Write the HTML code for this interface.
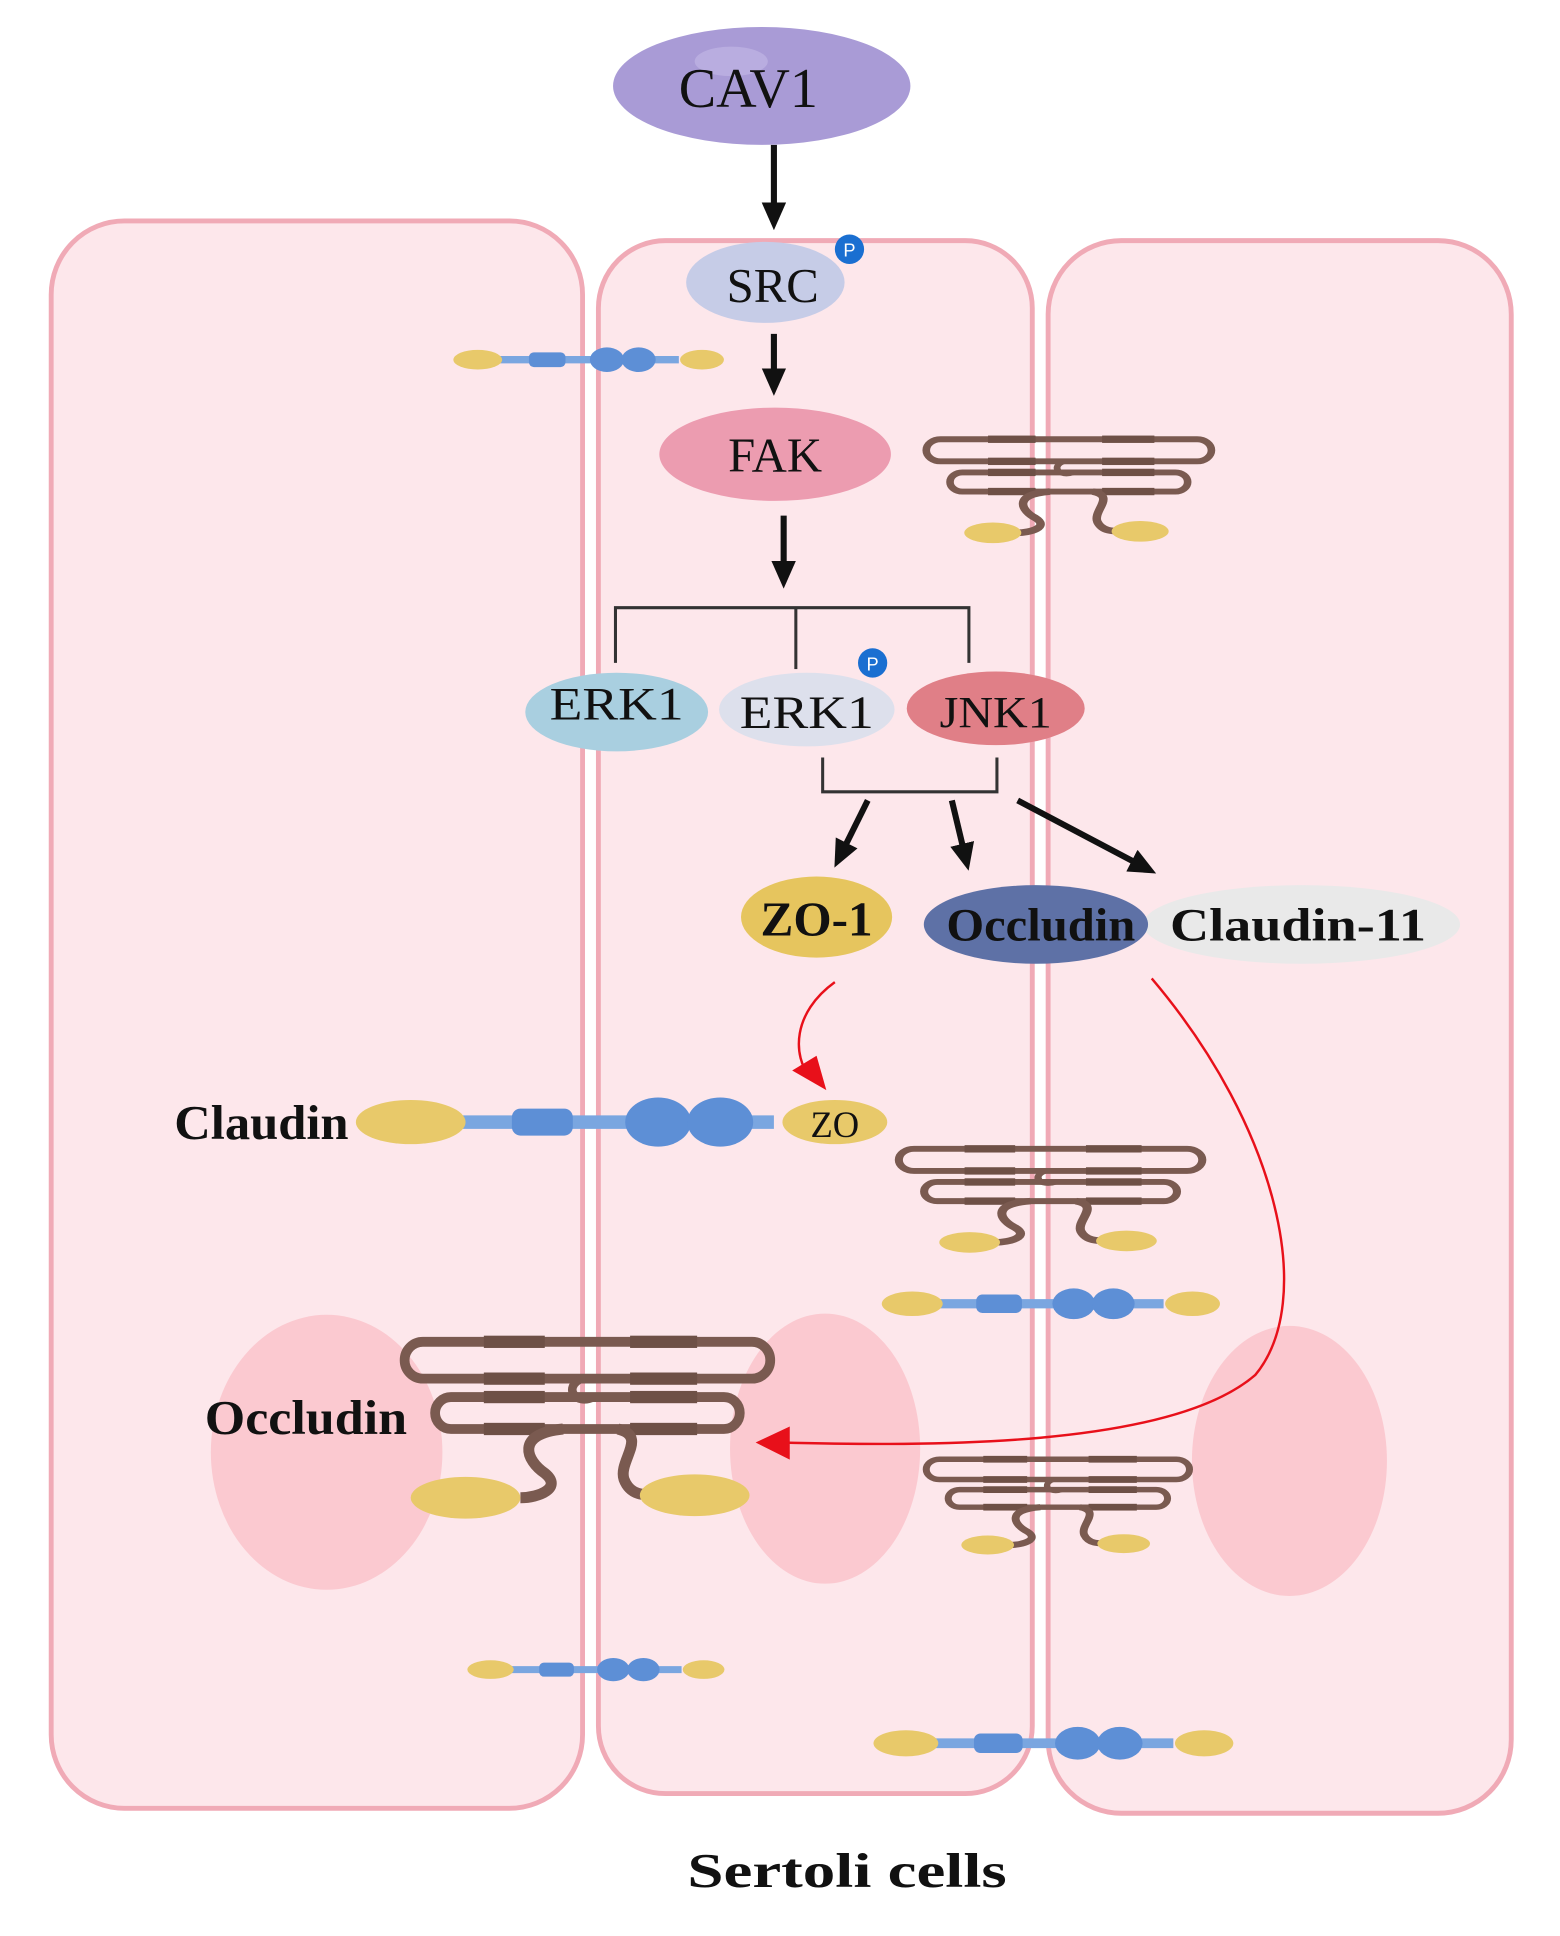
<!DOCTYPE html>
<html><head><meta charset="utf-8"><style>
html,body{margin:0;padding:0;background:#fff;}
svg{display:block;}
text{font-family:"Liberation Serif",serif;fill:#111;}
</style></head><body>
<svg width="1560" height="1936" viewBox="0 0 1280 1577" preserveAspectRatio="none" xmlns="http://www.w3.org/2000/svg">
<defs>
<marker id="ab" markerWidth="4.5" markerHeight="4" refX="3" refY="2" orient="auto" markerUnits="strokeWidth"><path d="M0,0 L4.5,2 L0,4 z" fill="#111"/></marker>
<g id="st">
<line x1="-75" y1="0" x2="75" y2="0" stroke="#7aa6e0" stroke-width="6"/>
<ellipse cx="-90" cy="0" rx="20" ry="8" fill="#e8c96a"/>
<rect x="-48" y="-6" width="30" height="12" rx="4" fill="#5d8fd6"/>
<ellipse cx="16" cy="0" rx="14" ry="10" fill="#5d8fd6"/>
<ellipse cx="42" cy="0" rx="14" ry="10" fill="#5d8fd6"/>
<ellipse cx="94" cy="0" rx="18" ry="8" fill="#e8c96a"/>
</g>
<g id="ocl">
<rect x="-150" y="-57" width="300" height="30" rx="15" fill="none" stroke="#7a5a50" stroke-width="8"/>
<rect x="-125" y="-12" width="250" height="26" rx="13" fill="none" stroke="#7a5a50" stroke-width="8"/>
<g fill="#6e5046">
<rect x="-85" y="-62" width="50" height="10"/><rect x="35" y="-62" width="55" height="10"/>
<rect x="-85" y="-32" width="50" height="10"/><rect x="35" y="-32" width="55" height="10"/>
<rect x="-85" y="-17" width="50" height="10"/><rect x="35" y="-17" width="55" height="10"/>
<rect x="-85" y="9" width="50" height="10"/><rect x="35" y="9" width="55" height="10"/>
</g>
<path d="M-5,-27 C-20,-20 -10,-5 5,-12" fill="none" stroke="#7a5a50" stroke-width="7"/>
<path d="M-20,14 C-60,18 -50,40 -35,50 C-20,62 -40,70 -55,70" fill="none" stroke="#7a5a50" stroke-width="9"/>
<path d="M25,14 C50,20 25,40 30,55 C35,68 45,68 60,68" fill="none" stroke="#7a5a50" stroke-width="9"/>
</g>
<g id="oc">
<use href="#ocl"/>
<ellipse cx="-100" cy="70" rx="45" ry="17" fill="#e8c96a"/>
<ellipse cx="88" cy="68" rx="45" ry="17" fill="#e8c96a"/>
</g>
<g id="ocs">
<use href="#ocl"/>
<ellipse cx="-80" cy="70" rx="30" ry="14" fill="#e8c96a"/>
<ellipse cx="75" cy="68" rx="30" ry="14" fill="#e8c96a"/>
</g>
</defs>
<rect width="1280" height="1577" fill="#fff"/>
<rect x="42" y="180" width="436" height="1293" rx="60" fill="#fde7eb" stroke="#f0aab6" stroke-width="4"/>
<rect x="491" y="196" width="356" height="1265" rx="55" fill="#fde7eb" stroke="#f0aab6" stroke-width="4"/>
<rect x="860" y="196" width="380" height="1281" rx="60" fill="#fde7eb" stroke="#f0aab6" stroke-width="4"/>
<ellipse cx="268" cy="1183" rx="95" ry="112" fill="#fbc9d0"/>
<ellipse cx="677" cy="1180" rx="78" ry="110" fill="#fbc9d0"/>
<ellipse cx="1058" cy="1190" rx="80" ry="110" fill="#fbc9d0"/>
<use href="#st" transform="translate(482,293)"/>
<use href="#st" transform="translate(861,1062) scale(1.25)"/>
<use href="#st" transform="translate(488,1360) scale(0.95)"/>
<use href="#st" transform="translate(863,1420) scale(1.33)"/>
<use href="#oc" transform="translate(482,1150)"/>
<use href="#ocs" transform="translate(877,392) scale(0.78,0.6)"/>
<use href="#ocs" transform="translate(862,970) scale(0.83,0.6)"/>
<use href="#ocs" transform="translate(868,1220) scale(0.72,0.55)"/>
<g stroke="#111" stroke-width="5" fill="none">
<line x1="635" y1="118" x2="635" y2="180" marker-end="url(#ab)"/>
<line x1="635" y1="272" x2="635" y2="315" marker-end="url(#ab)"/>
<line x1="643" y1="420" x2="643" y2="472" marker-end="url(#ab)"/>
<line x1="712" y1="652" x2="688" y2="700" marker-end="url(#ab)"/>
<line x1="781" y1="652" x2="793" y2="702" marker-end="url(#ab)"/>
<line x1="835" y1="652" x2="942" y2="708" marker-end="url(#ab)"/>
</g>
<g stroke="#333" stroke-width="2.5" fill="none">
<polyline points="505,540 505,495 795,495 795,540"/>
<line x1="653" y1="495" x2="653" y2="545"/>
<polyline points="675,617 675,645 818,645 818,617"/>
</g>
<ellipse cx="625" cy="70" rx="122" ry="48" fill="#a99bd6"/>
<ellipse cx="600" cy="50" rx="30" ry="12" fill="#c4b9e6" opacity="0.6"/>
<text x="614" y="87" font-size="46" text-anchor="middle">CAV1</text>
<ellipse cx="628" cy="230" rx="65" ry="33" fill="#c6cce7"/>
<text x="634" y="246" font-size="40" text-anchor="middle">SRC</text>
<circle cx="697" cy="203" r="12" fill="#1a6fd1"/><text x="697" y="209" font-size="15" text-anchor="middle" style="fill:#fff;font-family:'Liberation Sans',sans-serif">P</text>
<ellipse cx="636" cy="370" rx="95" ry="38" fill="#ec9cb0"/>
<text x="636" y="384" font-size="40" text-anchor="middle">FAK</text>
<ellipse cx="506" cy="580" rx="75" ry="32" fill="#a9cfe0"/>
<text x="506" y="586" font-size="38" text-anchor="middle" textLength="110" lengthAdjust="spacingAndGlyphs">ERK1</text>
<ellipse cx="662" cy="578" rx="72" ry="30" fill="#dde0ec"/>
<text x="662" y="593" font-size="38" text-anchor="middle" textLength="110" lengthAdjust="spacingAndGlyphs">ERK1</text>
<circle cx="716" cy="540" r="12" fill="#1a6fd1"/><text x="716" y="546" font-size="15" text-anchor="middle" style="fill:#fff;font-family:'Liberation Sans',sans-serif">P</text>
<ellipse cx="817" cy="577" rx="73" ry="30" fill="#e07f87"/>
<text x="817" y="592" font-size="36" text-anchor="middle" textLength="92" lengthAdjust="spacingAndGlyphs">JNK1</text>
<ellipse cx="670" cy="747" rx="62" ry="33" fill="#e6c55e"/>
<text x="670" y="762" font-size="40" text-anchor="middle" font-weight="bold" textLength="92" lengthAdjust="spacingAndGlyphs">ZO-1</text>
<ellipse cx="1068" cy="753" rx="130" ry="32" fill="#e9e9e9"/>
<ellipse cx="850" cy="753" rx="92" ry="32" fill="#5e71a6"/>
<text x="854" y="766" font-size="38" text-anchor="middle" font-weight="bold" textLength="155" lengthAdjust="spacingAndGlyphs">Occludin</text>
<text x="1065" y="766" font-size="38" text-anchor="middle" font-weight="bold" textLength="210" lengthAdjust="spacingAndGlyphs">Claudin-11</text>
<g stroke="#e8101a" stroke-width="2" fill="none">
<path d="M685,800 C650,825 650,860 665,878"/>
<path d="M945,797 C1050,920 1080,1060 1030,1120 C960,1180 760,1178 640,1175"/>
</g>
<path d="M650,872 L678,888 L670,860 z" fill="#e8101a"/>
<path d="M620,1175 L648,1162 L648,1189 z" fill="#e8101a"/>
<line x1="375" y1="914" x2="635" y2="914" stroke="#7aa6e0" stroke-width="11"/>
<ellipse cx="337" cy="914" rx="45" ry="18" fill="#e8c96a"/>
<rect x="420" y="903" width="50" height="22" rx="7" fill="#5d8fd6"/>
<ellipse cx="540" cy="914" rx="27" ry="20" fill="#5d8fd6"/>
<ellipse cx="591" cy="914" rx="27" ry="20" fill="#5d8fd6"/>
<ellipse cx="685" cy="914" rx="43" ry="18" fill="#e8c96a"/>
<text x="685" y="926" font-size="30" text-anchor="middle">ZO</text>
<text x="143" y="928" font-size="40" font-weight="bold" textLength="143" lengthAdjust="spacingAndGlyphs">Claudin</text>
<text x="168" y="1168" font-size="40" font-weight="bold" textLength="166" lengthAdjust="spacingAndGlyphs">Occludin</text>
<text x="695" y="1537" font-size="40" font-weight="bold" text-anchor="middle" textLength="262" lengthAdjust="spacingAndGlyphs">Sertoli cells</text>
</svg>
</body></html>
